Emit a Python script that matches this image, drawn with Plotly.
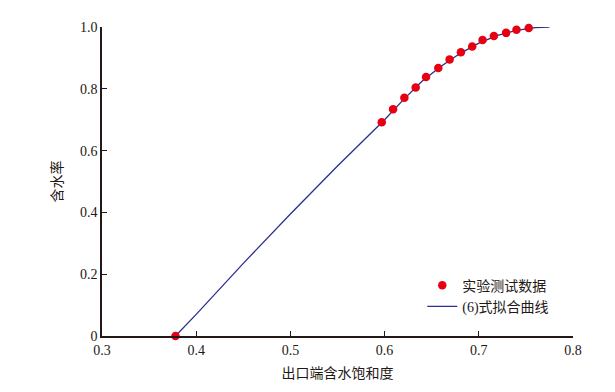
import plotly.graph_objects as go

# Experimental data
exp_x = [0.378, 0.597, 0.609, 0.621, 0.633, 0.644, 0.657, 0.669, 0.681, 0.693, 0.704, 0.716, 0.729, 0.740, 0.753]
exp_y = [0.0, 0.692, 0.734, 0.771, 0.804, 0.838, 0.867, 0.895, 0.918, 0.937, 0.958, 0.971, 0.981, 0.991, 0.997]

# Fitted curve (eq. 6)
fit_x = [0.378, 0.40, 0.45, 0.50, 0.55, 0.60, 0.62, 0.64, 0.66, 0.68, 0.70, 0.72, 0.74, 0.76, 0.775]
fit_y = [0.0, 0.07, 0.235, 0.395, 0.55, 0.70, 0.765, 0.825, 0.873, 0.914, 0.948, 0.973, 0.989, 0.998, 1.0]

x_ticks = [0.3, 0.4, 0.5, 0.6, 0.7, 0.8]
x_labels = ["0.3", "0.4", "0.5", "0.6", "0.7", "0.8"]
y_ticks = [0, 0.2, 0.4, 0.6, 0.8, 1.0]
y_labels = ["0", "0.2", "0.4", "0.6", "0.8", "1.0"]

FONT = "Liberation Serif, Noto Sans CJK SC, serif"

fig = go.Figure()
fig.add_trace(go.Scatter(
    x=fit_x, y=fit_y, mode="lines", name="(6)式拟合曲线",
    line=dict(color="#2b2f8f", width=1.3), cliponaxis=False))
fig.add_trace(go.Scatter(
    x=exp_x, y=exp_y, mode="markers", name="实验测试数据",
    marker=dict(color="#e60012", size=8.5), cliponaxis=False))

fig.update_layout(
    width=615, height=392,
    margin=dict(l=94, r=50, t=12, b=64),
    paper_bgcolor="white", plot_bgcolor="white",
    font=dict(family=FONT, size=14, color="#231815"),
    showlegend=True,
    legend=dict(x=0.68, y=0.215, xanchor="left", yanchor="top",
                traceorder="reversed", bgcolor="rgba(0,0,0,0)",
                font=dict(family=FONT, size=14, color="#231815"),
                itemwidth=30, tracegroupgap=0),
    xaxis=dict(range=[0.3, 0.8], tickvals=x_ticks, ticktext=x_labels,
               showgrid=False, zeroline=False, showline=True,
               linecolor="#231815", linewidth=1.5,
               ticks="inside", ticklen=5, tickcolor="#231815", tickwidth=1,
               tickfont=dict(family=FONT, size=14),
               title=dict(text="出口端含水饱和度", font=dict(family=FONT, size=14), standoff=12)),
    yaxis=dict(range=[0, 1.0], tickvals=y_ticks, ticktext=y_labels,
               showgrid=False, zeroline=False, showline=True,
               linecolor="#231815", linewidth=1.5,
               ticks="inside", ticklen=5, tickcolor="#231815", tickwidth=1,
               tickfont=dict(family=FONT, size=14),
               title=dict(text="含水率", font=dict(family=FONT, size=14), standoff=14)),
)

fig.write_html("out.html")
